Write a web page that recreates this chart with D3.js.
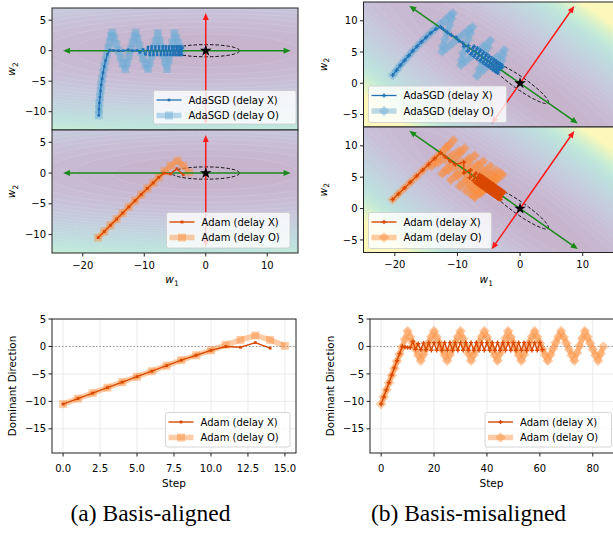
<!DOCTYPE html>
<html>
<head>
<meta charset="utf-8">
<script src="https://cdn.jsdelivr.net/npm/d3@7"></script>
<style>
  body { margin: 0; background: #fff; }
  svg { display: block; }
  text { font-family: 'DejaVu Sans', sans-serif; }
  text.caption { font-family: 'Liberation Serif', 'Times New Roman', serif; }
</style>
</head>
<body>
<svg id="fig" width="613" height="538"></svg>
<script>
// ---------------- data ----------------
// Trajectories are kept as (u, v): u = along the flat valley, v = dominant (steep) direction.
// Basis-aligned panels plot them as (w1, w2) = (u, v); the misaligned panels rotate the basis by 35 deg.

// AdaSGD is basis-independent, so the same path appears in both columns
const sgdX_u = [-17.4,-17.35,-17.3,-17.2,-17.1,-17.0,-16.85,-16.7,-16.5,-16.3,-16.0,-15.6,-15.0,-14.2,-13.4,-12.6,-11.9,-11.2,-10.7,-10.2,
  -9.8,-9.4,-9.1,-8.8,-8.5,-8.2,-7.9,-7.6,-7.3,-7.0,-6.75,-6.5,-6.25,-6.0,-5.75,-5.5,-5.3,-5.1,-4.9,-4.7,-4.5,-4.35,-4.2,-4.05,-3.9,-3.8];
const sgdX_v = [-10.6,-9.6,-8.6,-7.6,-6.6,-5.6,-4.6,-3.6,-2.6,-1.6,-0.6,0.1,0.05,0.0,0.0,0.15,0.0,0.05,-0.3,0.2,
  -0.6,0.6,-0.7,0.7,-0.7,0.7,-0.7,0.7,-0.7,0.7,-0.7,0.7,-0.7,0.7,-0.7,0.7,-0.7,0.7,-0.7,0.7,-0.7,0.7,-0.7,0.7,-0.7,0.5];
const sgdO_u = [-17.4,-17.35,-17.3,-17.2,-17.1,-17.0,-16.85,-16.7,-16.5,-16.3,-16.1,-15.85,-15.6,-15.4,-15.2,-14.9,-14.55,-14.2,-13.85,-13.5,
  -13.1,-12.8,-12.5,-12.2,-11.9,-11.6,-11.4,-11.1,-10.8,-10.5,-10.2,-9.8,-9.4,-9.1,-8.8,-8.5,-8.15,-7.8,-7.5,-7.2,
  -6.9,-6.6,-6.3,-6.0,-5.7,-5.4,-5.1,-4.8,-4.5,-4.25,-4.0];
const sgdO_v = [-10.6,-9.6,-8.6,-7.6,-6.6,-5.6,-4.6,-3.6,-2.6,-1.6,-0.6,0.4,1.4,2.4,3.0,2.2,1.1,0.0,-1.1,-2.2,
  -3.0,-2.0,-0.9,0.2,1.3,2.3,3.0,2.0,0.9,-0.2,-1.3,-2.3,-3.0,-2.0,-0.8,0.4,1.6,2.9,1.7,0.5,
  -0.7,-1.9,-3.0,-1.6,-0.1,1.4,2.9,2.1,1.3,0.5,0.0];

// Adam, basis-aligned
const adamAlX_u = [-17.5,-16.5,-15.5,-14.5,-13.5,-12.5,-11.5,-10.5,-9.5,-8.55,-7.65,-6.8,-5.75,-4.7,-3.65];
const adamAlX_v = [-10.5,-9.5,-8.5,-7.5,-6.5,-5.5,-4.5,-3.5,-2.5,-1.6,-0.7,0.0,-0.15,0.7,-0.3];
const adamAlO_u = [-17.5,-16.5,-15.5,-14.5,-13.5,-12.5,-11.5,-10.5,-9.5,-8.55,-7.65,-6.7,-5.7,-4.6,-3.65,-2.7];
const adamAlO_v = [-10.5,-9.5,-8.5,-7.5,-6.5,-5.5,-4.5,-3.5,-2.5,-1.6,-0.7,0.3,1.2,2.0,1.2,0.1];

// Adam, basis-misaligned
const adamMisX_u = [-17.5,-17.25,-17.0,-16.75,-16.5,-16.25,-16.0,-15.75,-15.5,-14.5,
  -13.5,-12.5,-11.6,-10.6,-10.0,-9.4,-9.0,-8.7,-8.4,-8.25,
  -8.1,-7.98,-7.87,-7.75,-7.64,-7.52,-7.41,-7.29,-7.18,-7.06,
  -6.95,-6.83,-6.72,-6.6,-6.49,-6.37,-6.26,-6.14,-6.03,-5.91,
  -5.8,-5.68,-5.57,-5.45,-5.34,-5.22,-5.11,-4.99,-4.88,-4.76,
  -4.65,-4.53,-4.42,-4.3,-4.19,-4.07,-3.96,-3.84,-3.73,-3.61,
  -3.5,-3.4];
const adamMisX_v = [-10.5,-9.2,-7.9,-6.6,-5.2,-3.9,-2.6,-1.3,0.0,-0.1,
  -0.2,-0.2,0.9,-0.5,0.5,-0.6,0.6,-0.6,0.7,-0.7,
  0.7,-0.7,0.7,-0.7,0.7,-0.7,0.7,-0.7,0.7,-0.7,
  0.7,-0.7,0.7,-0.7,0.7,-0.7,0.7,-0.7,0.7,-0.7,
  0.7,-0.7,0.7,-0.7,0.7,-0.7,0.7,-0.7,0.7,-0.7,
  0.7,-0.7,0.7,-0.7,0.7,-0.7,0.7,-0.7,0.7,-0.7,
  0.7,-0.6];
const adamMisO_u = [-17.5,-17.25,-17.0,-16.75,-16.5,-16.25,-16.0,-15.75,-15.5,-15.25,
  -14.96,-15.07,-15.18,-15.29,-15.4,-15.48,-14.93,-14.38,-13.83,-13.28,
  -12.76,-12.89,-13.02,-13.15,-13.28,-13.38,-12.85,-12.32,-11.79,-11.26,
  -10.76,-11.0,-11.21,-11.45,-11.66,-11.15,-10.64,-10.13,-9.62,-9.14,
  -9.29,-9.46,-9.63,-9.8,-9.94,-9.36,-8.83,-8.27,-7.74,-7.93,
  -8.12,-8.33,-8.54,-8.72,-8.27,-7.82,-7.39,-6.96,-6.56,-6.79,
  -7.02,-7.27,-7.52,-7.74,-7.33,-6.92,-6.53,-6.14,-5.78,-6.05,
  -6.32,-6.61,-6.9,-7.16,-6.7,-6.27,-5.82,-5.4,-5.7,-6.0,
  -6.3,-6.62,-6.91,-6.5,-6.1];
const adamMisO_v = [-10.5,-9.2,-7.9,-6.6,-5.3,-4.0,-2.7,-1.4,-0.1,1.3,
  2.8,1.7,0.6,-0.5,-1.6,-2.6,-1.5,-0.4,0.7,1.8,
  2.8,1.7,0.6,-0.5,-1.6,-2.6,-1.5,-0.4,0.7,1.8,
  2.8,1.4,0.1,-1.3,-2.6,-1.5,-0.4,0.7,1.8,2.8,
  1.7,0.6,-0.5,-1.6,-2.6,-1.2,0.1,1.5,2.8,1.7,
  0.6,-0.5,-1.6,-2.6,-1.5,-0.4,0.7,1.8,2.8,1.7,
  0.6,-0.5,-1.6,-2.6,-1.5,-0.4,0.7,1.8,2.8,1.7,
  0.6,-0.5,-1.6,-2.6,-1.2,0.1,1.5,2.8,1.7,0.6,
  -0.5,-1.6,-2.6,-1.3,0.0];

// eigen-direction arrows (valley = green, dominant = red), extents in (u, v)
const arrowAligned = { green: [-23.2, 13.8], red: [-12.0, 6.2] };
const arrowMis = { green: [-21.6, 11.25], red: [-7.9, 15.1] };
const ellipseAxes = [5.5, 1.0];       // dashed level set, semi-axes along u, v
const LAM_U = 1 / 30, LAM_V = 1;       // loss curvatures
const F_MAX = 270, N_LEVELS = 36;      // colour scale of the contour background

// ticks
const wTicksX = [-20, -10, 0, 10];
const wTicksYAl = [-10, -5, 0, 5];
const wTicksYMis = [-5, 0, 5, 10];
const stepTicksA = [0, 2.5, 5, 7.5, 10, 12.5, 15];
const stepTicksB = [0, 20, 40, 60, 80];
const dirTicks = [-15, -10, -5, 0, 5];

const labels = {
  sgdX: 'AdaSGD (delay X)', sgdO: 'AdaSGD (delay O)',
  adamX: 'Adam (delay X)', adamO: 'Adam (delay O)'
};
const captions = ['(a) Basis-aligned', '(b) Basis-misaligned'];

// ---------------- drawing ----------------
const svg = d3.select('#fig');
const defs = svg.append('defs');
const GREEN = '#1a8a1a', RED = '#ff1a1a';

const styles = {
  sgdX:  { color: '#2171b5', lw: 1.3, alpha: 1, ms: 2.6 },
  sgdO:  { color: '#6baed6', lw: 5.5, alpha: 0.45, ms: 8 },
  adamX: { color: '#d94801', lw: 1.4, alpha: 1, ms: 2.8 },
  adamO: { color: '#fd8d3c', lw: 5.5, alpha: 0.45, ms: 8 }
};
function style(key, mis) {
  const s = Object.assign({}, styles[key]);
  const heavy = key.endsWith('O');
  s.marker = mis ? (heavy ? 'diamond' : 'cross') : 'square';
  if (mis && heavy) s.ms = 7.5;
  return s;
}

function rot(u, v, deg) {
  const a = deg * Math.PI / 180, c = Math.cos(a), s = Math.sin(a);
  return [u * c + v * s, -u * s + v * c];
}
function lossAt(w1, w2, deg) {
  const a = deg * Math.PI / 180, c = Math.cos(a), s = Math.sin(a);
  const u = w1 * c - w2 * s, v = w1 * s + w2 * c;
  return LAM_U * u * u + LAM_V * v * v;
}

function markerPath(st) {
  if (st.marker === 'cross') return d3.symbol(d3.symbolCross, 10)();
  return d3.symbol(d3.symbolSquare, st.ms * st.ms)();
}

function drawSeries(layer, pts, st, X, Y) {
  layer.append('path')
    .attr('d', d3.line().x(p => X(p[0])).y(p => Y(p[1]))(pts))
    .attr('fill', 'none').attr('stroke', st.color).attr('stroke-width', st.lw)
    .attr('stroke-opacity', st.alpha).attr('stroke-linejoin', 'round');
  layer.selectAll(null).data(pts).join('path')
    .attr('transform', p => `translate(${X(p[0])},${Y(p[1])})` + (st.marker === 'diamond' ? ' rotate(45)' : ''))
    .attr('d', markerPath(st))
    .attr('fill', st.color).attr('fill-opacity', st.alpha);
}

function arrow(layer, x1, y1, x2, y2, color) {
  const L = Math.hypot(x2 - x1, y2 - y1), ux = (x2 - x1) / L, uy = (y2 - y1) / L;
  const hl = 7, hw = 3;
  layer.append('line')
    .attr('x1', x1 + ux * hl * 0.8).attr('y1', y1 + uy * hl * 0.8)
    .attr('x2', x2 - ux * hl * 0.8).attr('y2', y2 - uy * hl * 0.8)
    .attr('stroke', color).attr('stroke-width', 1.5);
  [[x2, y2, 1], [x1, y1, -1]].forEach(([tx, ty, d]) => {
    const bx = tx - d * ux * hl, by = ty - d * uy * hl;
    layer.append('path')
      .attr('d', `M${tx},${ty}L${bx - uy * hw},${by + ux * hw}L${bx + uy * hw},${by - ux * hw}Z`)
      .attr('fill', color);
  });
}

function legend(box, entries) {
  const g = svg.append('g');
  g.append('rect').attr('x', box.x).attr('y', box.y).attr('width', box.w).attr('height', box.h)
    .attr('rx', 2).attr('fill', '#fff').attr('fill-opacity', 0.8)
    .attr('stroke', '#cccccc').attr('stroke-width', 0.8);
  entries.forEach((e, i) => {
    const cy = box.y + 9.5 + i * 15.5;
    const l = g.append('g');
    drawSeries(l, [[box.x + 3, cy], [box.x + 28, cy]], e.st, d => d, d => d);
    l.selectAll('path').filter((d, j) => j === 2).remove(); // keep one marker in the middle
    l.selectAll('path').filter((d, j) => j === 1)
      .attr('transform', `translate(${box.x + 15.5},${cy})` + (e.st.marker === 'diamond' ? ' rotate(45)' : ''));
    g.append('text').attr('x', box.x + 35).attr('y', cy + 3.6)
      .attr('font-size', 10).attr('fill', '#000').text(e.label);
  });
}

function yLabelW(x, y, sub) {
  const t = svg.append('text').attr('transform', `translate(${x},${y}) rotate(-90)`)
    .attr('text-anchor', 'middle').attr('font-size', 10.5);
  t.append('tspan').attr('font-style', 'italic').text('w');
  t.append('tspan').attr('font-size', 7.5).attr('dy', 2.5).text(sub);
}

// ---- weight-space panels ----
const panelsW = [
  { id: 'tl', x0: 52, x1: 298, y0: 8, y1: 130, yDom: [-13, 7], deg: 0, opt: 'sgd', yTicks: wTicksYAl, xAxis: false,
    legend: { x: 153.5, y: 90.5, w: 142.5, h: 33.5 } },
  { id: 'ml', x0: 52, x1: 298, y0: 130, y1: 253, yDom: [-13, 7], deg: 0, opt: 'adam', yTicks: wTicksYAl, xAxis: true,
    legend: { x: 166.5, y: 212.5, w: 123.5, h: 35.5 } },
  { id: 'tr', x0: 363.5, x1: 614, y0: 2, y1: 127, yDom: [-7, 13], deg: 35, opt: 'sgd', yTicks: wTicksYMis, xAxis: false,
    legend: { x: 368.5, y: 86, w: 138, h: 36.5 } },
  { id: 'mr', x0: 363.5, x1: 614, y0: 127, y1: 252.5, yDom: [-7, 13], deg: 35, opt: 'adam', yTicks: wTicksYMis, xAxis: true,
    legend: { x: 368.5, y: 212.5, w: 123, h: 36 } }
];

panelsW.forEach(cfg => {
  const X = d3.scaleLinear().domain([-25, 15]).range([cfg.x0, cfg.x1]);
  const Y = d3.scaleLinear().domain(cfg.yDom).range([cfg.y1, cfg.y0]);
  const mis = cfg.deg !== 0;
  defs.append('clipPath').attr('id', 'clip-' + cfg.id).append('rect')
    .attr('x', cfg.x0).attr('y', cfg.y0).attr('width', cfg.x1 - cfg.x0).attr('height', cfg.y1 - cfg.y0);
  const body = svg.append('g').attr('clip-path', `url(#clip-${cfg.id})`);

  // filled contours of the loss
  const nx = 200, ny = 100, W = cfg.x1 - cfg.x0, H = cfg.y1 - cfg.y0;
  const vals = new Float64Array(nx * ny);
  for (let j = 0; j < ny; j++) for (let i = 0; i < nx; i++) {
    vals[j * nx + i] = lossAt(X.invert(cfg.x0 + (i + 0.5) / nx * W), Y.invert(cfg.y0 + (j + 0.5) / ny * H), cfg.deg);
  }
  const step = F_MAX / N_LEVELS;
  const bands = d3.contours().size([nx, ny]).thresholds(d3.range(0, F_MAX, step))(vals);
  const proj = d3.geoTransform({ point(px, py) { this.stream.point(cfg.x0 + px / nx * W, cfg.y0 + py / ny * H); } });
  const col = v => d3.interpolateRgb('#fff', d3.interpolateViridis(Math.min(1, (v + step / 2) / F_MAX)))(0.3);
  body.append('rect').attr('x', cfg.x0).attr('y', cfg.y0).attr('width', W).attr('height', H).attr('fill', col(0));
  body.selectAll(null).data(bands).join('path')
    .attr('d', d3.geoPath(proj)).attr('fill', d => col(d.value))
    .attr('stroke', '#fff').attr('stroke-opacity', 0.18).attr('stroke-width', 0.6);

  // dashed level set
  const ell = d3.range(0, 361, 4).map(a => rot(ellipseAxes[0] * Math.cos(a * Math.PI / 180), ellipseAxes[1] * Math.sin(a * Math.PI / 180), cfg.deg));
  body.append('path').attr('d', d3.line().x(p => X(p[0])).y(p => Y(p[1]))(ell))
    .attr('fill', 'none').attr('stroke', '#111').attr('stroke-width', 1).attr('stroke-dasharray', '3.5,2');

  const keyO = cfg.opt + 'O', keyX = cfg.opt + 'X';
  let dO, dX;
  if (cfg.opt === 'sgd') { dO = [sgdO_u, sgdO_v]; dX = [sgdX_u, sgdX_v]; }
  else if (!mis) { dO = [adamAlO_u, adamAlO_v]; dX = [adamAlX_u, adamAlX_v]; }
  else { dO = [adamMisO_u, adamMisO_v]; dX = [adamMisX_u, adamMisX_v]; }
  const toPts = d => d[0].map((u, i) => rot(u, d[1][i], cfg.deg));

  drawSeries(body.append('g'), toPts(dO), style(keyO, mis), X, Y);

  const ar = mis ? arrowMis : arrowAligned;
  const g0 = rot(ar.green[0], 0, cfg.deg), g1 = rot(ar.green[1], 0, cfg.deg);
  const r0 = rot(0, ar.red[0], cfg.deg), r1 = rot(0, ar.red[1], cfg.deg);
  arrow(body, X(g0[0]), Y(g0[1]), X(g1[0]), Y(g1[1]), GREEN);
  arrow(body, X(r0[0]), Y(r0[1]), X(r1[0]), Y(r1[1]), RED);

  drawSeries(body.append('g'), toPts(dX), style(keyX, mis), X, Y);

  body.append('path').attr('transform', `translate(${X(0)},${Y(0)})`)
    .attr('d', d3.symbol(d3.symbolStar, 42)()).attr('fill', '#000');

  // frame + axes
  svg.append('rect').attr('x', cfg.x0).attr('y', cfg.y0).attr('width', W).attr('height', H)
    .attr('fill', 'none').attr('stroke', '#222').attr('stroke-width', 1);
  const ax = svg.append('g');
  cfg.yTicks.forEach(t => {
    ax.append('line').attr('x1', cfg.x0 - 3.5).attr('x2', cfg.x0).attr('y1', Y(t)).attr('y2', Y(t)).attr('stroke', '#222');
    ax.append('text').attr('x', cfg.x0 - 6).attr('y', Y(t) + 3.6).attr('text-anchor', 'end')
      .attr('font-size', 10).text(d3.format('d')(t));
  });
  if (cfg.xAxis) {
    wTicksX.forEach(t => {
      ax.append('line').attr('x1', X(t)).attr('x2', X(t)).attr('y1', cfg.y1).attr('y2', cfg.y1 + 3.5).attr('stroke', '#222');
      ax.append('text').attr('x', X(t)).attr('y', cfg.y1 + 15.5).attr('text-anchor', 'middle')
        .attr('font-size', 10).text(d3.format('d')(t));
    });
    const lab = svg.append('text').attr('x', (cfg.x0 + Math.min(cfg.x1, 613)) / 2 + (cfg.deg ? -2 : -3)).attr('y', 283)
      .attr('text-anchor', 'middle').attr('font-size', 10.5);
    lab.append('tspan').attr('font-style', 'italic').text('w');
    lab.append('tspan').attr('font-size', 7.5).attr('dy', 2.5).text('1');
  }
  yLabelW(cfg.x0 - 37, (cfg.y0 + cfg.y1) / 2, '2');

  legend(cfg.legend, [
    { label: labels[keyX], st: style(keyX, mis) },
    { label: labels[keyO], st: style(keyO, mis) }
  ]);
});

// ---- dominant-direction panels ----
const panelsS = [
  { x0: 52, x1: 296, xDom: [-0.75, 15.75], xTicks: stepTicksA, fmt: '.1f', mis: false,
    X: adamAlX_v, O: adamAlO_v, legend: { x: 165.5, y: 412.5, w: 124.5, h: 34.5 } },
  { x0: 370, x1: 614.5, xDom: [-4.2, 88.2], xTicks: stepTicksB, fmt: 'd', mis: true,
    X: adamMisX_v, O: adamMisO_v, legend: { x: 485, y: 412.5, w: 126.5, h: 34.5 } }
];
const sy0 = 319, sy1 = 453;

panelsS.forEach((cfg, k) => {
  const X = d3.scaleLinear().domain(cfg.xDom).range([cfg.x0, cfg.x1]);
  const Y = d3.scaleLinear().domain([-19.4, 5]).range([sy1, sy0]);
  const W = cfg.x1 - cfg.x0;
  defs.append('clipPath').attr('id', 'clips-' + k).append('rect')
    .attr('x', cfg.x0).attr('y', sy0).attr('width', W).attr('height', sy1 - sy0);
  const body = svg.append('g').attr('clip-path', `url(#clips-${k})`);
  cfg.xTicks.forEach(t => body.append('line').attr('x1', X(t)).attr('x2', X(t)).attr('y1', sy0).attr('y2', sy1)
    .attr('stroke', '#e6e6e6').attr('stroke-width', 0.8));
  dirTicks.forEach(t => body.append('line').attr('x1', cfg.x0).attr('x2', cfg.x1).attr('y1', Y(t)).attr('y2', Y(t))
    .attr('stroke', '#e6e6e6').attr('stroke-width', 0.8));
  body.append('line').attr('x1', cfg.x0).attr('x2', cfg.x1).attr('y1', Y(0)).attr('y2', Y(0))
    .attr('stroke', '#888').attr('stroke-width', 1).attr('stroke-dasharray', '1.2,2.2');

  drawSeries(body.append('g'), cfg.O.map((v, i) => [i, v]), style('adamO', cfg.mis), X, Y);
  drawSeries(body.append('g'), cfg.X.map((v, i) => [i, v]), style('adamX', cfg.mis), X, Y);

  svg.append('rect').attr('x', cfg.x0).attr('y', sy0).attr('width', W).attr('height', sy1 - sy0)
    .attr('fill', 'none').attr('stroke', '#222').attr('stroke-width', 1);
  const ax = svg.append('g');
  dirTicks.forEach(t => {
    ax.append('line').attr('x1', cfg.x0 - 3.5).attr('x2', cfg.x0).attr('y1', Y(t)).attr('y2', Y(t)).attr('stroke', '#222');
    ax.append('text').attr('x', cfg.x0 - 6).attr('y', Y(t) + 3.6).attr('text-anchor', 'end')
      .attr('font-size', 10).text(d3.format('d')(t));
  });
  cfg.xTicks.forEach(t => {
    ax.append('line').attr('x1', X(t)).attr('x2', X(t)).attr('y1', sy1).attr('y2', sy1 + 3.5).attr('stroke', '#222');
    ax.append('text').attr('x', X(t)).attr('y', 472).attr('text-anchor', 'middle')
      .attr('font-size', 10).text(d3.format(cfg.fmt)(t));
  });
  svg.append('text').attr('x', (cfg.x0 + Math.min(cfg.x1, 613)) / 2).attr('y', 486.5)
    .attr('text-anchor', 'middle').attr('font-size', 10.5).text('Step');
  svg.append('text').attr('transform', `translate(${cfg.x0 - 36},${(sy0 + sy1) / 2}) rotate(-90)`)
    .attr('text-anchor', 'middle').attr('font-size', 10.3).text('Dominant Direction');

  legend(cfg.legend, [
    { label: labels.adamX, st: style('adamX', cfg.mis) },
    { label: labels.adamO, st: style('adamO', cfg.mis) }
  ]);
});

// captions
[[150.5, captions[0]], [468.5, captions[1]]].forEach(([x, t]) => {
  svg.append('text').attr('class', 'caption').attr('x', x).attr('y', 521).attr('text-anchor', 'middle')
    .attr('font-size', 23.5).attr('fill', '#000').text(t);
});
</script>
</body>
</html>
